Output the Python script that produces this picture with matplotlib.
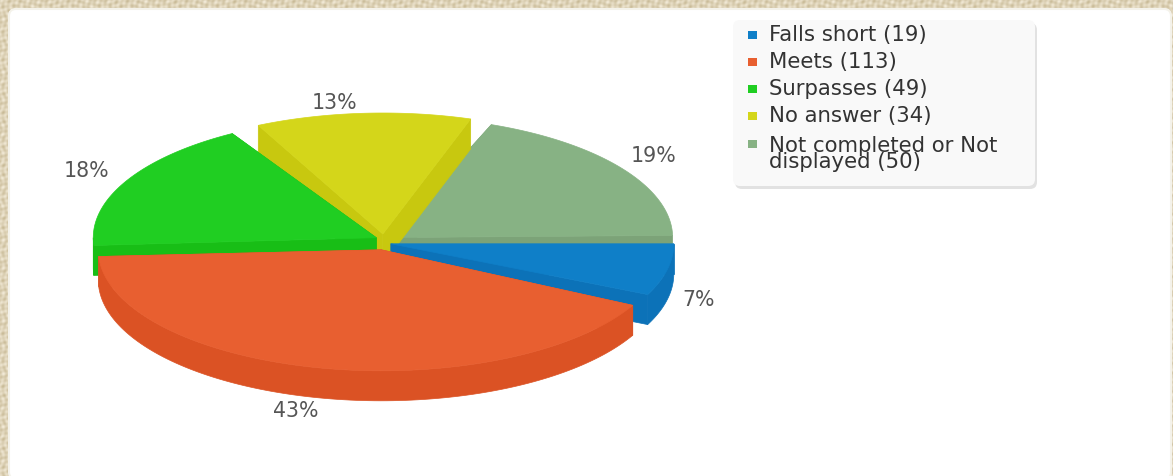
import matplotlib
matplotlib.use("Agg")
import matplotlib.pyplot as plt
import numpy as np
from matplotlib.patches import FancyBboxPatch, Polygon, Rectangle

labels = ["Falls short", "Meets", "Surpasses", "No answer", "Not completed or Not\ndisplayed"]
counts = [19, 113, 49, 34, 50]
colors = ["#0F7FC8", "#E85F30", "#20CE22", "#D4D61A", "#87B284"]
sides = ["#0C72B8", "#DB5224", "#18BE16", "#C8C80F", "#7CA378"]
# the source renderer bends the edges a little, degrees (start, end)
nudge = [(0, -1), (1.5, -2.5), (-3, -6.5), (-2, -4), (-1, -1)]
pct_pos = [(699, 300), (296, 411), (87, 171), (335, 103), (654, 156)]

W, H = 1173, 477
cx, cy = 383, 243
rx, ry = 283, 121
depth = 30
explode = 8

fig = plt.figure(figsize=(W / 100, H / 100), dpi=100)
ax = fig.add_axes([0, 0, 1, 1])
ax.set_xlim(0, W)
ax.set_ylim(H, 0)
ax.axis("off")

# beige wallpaper round the panel
yy, xx = np.mgrid[0:H, 0:W]
tex = 0.55 + 0.18 * np.sin(xx * 0.53) * np.sin(yy * 0.71) + 0.14 * np.sin(xx * 1.17 + 2 * np.sin(yy * 0.23)) \
    + 0.1 * np.sin(yy * 1.31 + 3 * np.sin(xx * 0.11))
c1 = np.array([0.76, 0.70, 0.55])
c2 = np.array([0.96, 0.93, 0.86])
img = c1 + (c2 - c1) * tex[..., None]
ax.imshow(img, extent=(0, W, H, 0), aspect="auto", zorder=0)
ax.add_patch(FancyBboxPatch((9, 10), 1162, 470, boxstyle="round,pad=0,rounding_size=7",
                            fc="white", ec="#f4f2ea", lw=1.5, zorder=1))


def ell(x0, y0, a):
    return x0 + rx * np.cos(a), y0 + ry * np.sin(a)


fr = np.array(counts) / sum(counts)
edges = np.radians(np.concatenate([[0], np.cumsum(fr) * 360]))

# back to front: sage, yellow, green, blue, orange
for n, i in enumerate([4, 3, 2, 0, 1]):
    z = 2 + n * 0.1
    mid = (edges[i] + edges[i + 1]) / 2
    x0 = cx + explode * np.cos(mid)
    y0 = cy + explode * np.sin(mid)
    a0 = edges[i] + np.radians(nudge[i][0])
    a1 = edges[i + 1] + np.radians(nudge[i][1])
    t = np.linspace(a0, a1, 120)
    ex, ey = ell(x0, y0, t)

    # cut faces
    for a in (a0, a1):
        px, py = ell(x0, y0, a)
        ax.add_patch(Polygon([(x0, y0), (px, py), (px, py + depth), (x0, y0 + depth)],
                             fc=sides[i], ec=sides[i], lw=0.5, zorder=z))
    # outer wall, front half only
    lo, hi = max(a0, 0), min(a1, np.pi)
    if hi > lo:
        t2 = np.linspace(lo, hi, 120)
        wx, wy = ell(x0, y0, t2)
        wall = np.r_[np.c_[wx, wy], np.c_[wx, wy + depth][::-1]]
        ax.add_patch(Polygon(wall, fc=sides[i], ec=sides[i], lw=0.5, zorder=z))
    # top
    top = np.r_[[[x0, y0]], np.c_[ex, ey]]
    ax.add_patch(Polygon(top, fc=colors[i], ec=colors[i], lw=0.5, zorder=z + 0.05))

for c, pos in zip(counts, pct_pos):
    ax.text(pos[0], pos[1], f"{round(c / sum(counts) * 100)}%", color="#555555", fontsize=14.8,
            ha="center", va="center", zorder=5)

# legend box
ax.add_patch(FancyBboxPatch((735, 24), 302, 166, boxstyle="round,pad=0,rounding_size=7",
                            fc="#e2e2e2", ec="none", zorder=3))
ax.add_patch(FancyBboxPatch((733, 21), 302, 166, boxstyle="round,pad=0,rounding_size=7",
                            fc="#f9f9f9", ec="none", zorder=3.1))
leg_y = [35, 62, 89, 116, 154]
swatch_y = [36, 63, 90, 117, 145]
for lab, c, col, ty, sy in zip(labels, counts, colors, leg_y, swatch_y):
    ax.add_patch(Rectangle((748, sy - 4), 9, 8, fc=col, ec="none", zorder=4))
    ax.text(769, ty, f"{lab} ({c})", color="#333333", fontsize=15.3, ha="left", va="center",
            linespacing=0.78, zorder=5)

plt.savefig("out.png", dpi=100)
plt.close()
